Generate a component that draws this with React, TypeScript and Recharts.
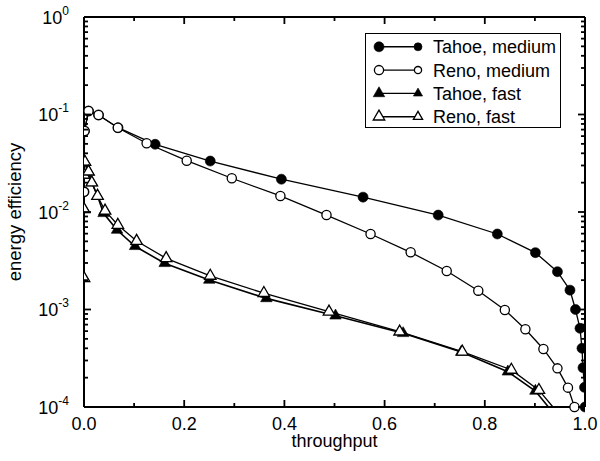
import React from 'react';
import { LineChart, Line, XAxis, YAxis, Legend } from 'recharts';

const FONT = '"Liberation Sans", Arial, Helvetica, sans-serif';

// ---- data (throughput, energy efficiency) ----
const tahoeMediumThroughput = [0, 0.001, 0.009, 0.029, 0.068, 0.142, 0.252, 0.394, 0.557, 0.707, 0.825, 0.901, 0.945, 0.970, 0.981, 0.990, 0.994, 0.996, 0.999, 1.0];
const tahoeMediumEfficiency = [0.0161, 0.0677, 0.1086, 0.0989, 0.0732, 0.0495, 0.0333, 0.0217, 0.0142, 0.0093, 0.00595, 0.00383, 0.00244, 0.00158, 0.001, 0.000641, 0.0004, 0.000253, 0.000159, 0.0001];

const renoMediumThroughput = [0, 0.001, 0.009, 0.029, 0.0675, 0.125, 0.205, 0.295, 0.392, 0.484, 0.572, 0.652, 0.724, 0.787, 0.840, 0.881, 0.917, 0.945, 0.966, 0.979];
const renoMediumEfficiency = [0.0161, 0.0677, 0.1086, 0.0989, 0.0732, 0.0507, 0.0336, 0.0222, 0.0146, 0.00931, 0.00595, 0.00386, 0.00248, 0.00156, 0.000988, 0.000627, 0.000394, 0.000249, 0.000158, 0.0001];

const tahoeFastThroughput = [0, 0, 0, 0.002, 0.009, 0.0156, 0.027, 0.039, 0.066, 0.102, 0.161, 0.250, 0.364, 0.502, 0.637, 0.753, 0.846, 0.901];
const tahoeFastEfficiency = [0.00209, 0.01066, 0.024, 0.0325, 0.0259, 0.02, 0.0146, 0.0097, 0.00654, 0.00445, 0.00298, 0.00201, 0.0013, 0.000863, 0.00057, 0.000367, 0.00023, 0.000146];
// where the line leaves the plot through the bottom axis (no marker)
const tahoeFastAxisExit = [0.927, 0.0001];

const renoFastThroughput = [0, 0, 0, 0.002, 0.009, 0.0156, 0.027, 0.042, 0.0675, 0.105, 0.164, 0.252, 0.359, 0.489, 0.630, 0.755, 0.853, 0.908];
const renoFastEfficiency = [0.00209, 0.01066, 0.024, 0.0325, 0.0259, 0.02, 0.0146, 0.0103, 0.00736, 0.00504, 0.00335, 0.00221, 0.00147, 0.000949, 0.000592, 0.000369, 0.00024, 0.000149];
const renoFastAxisExit = [0.936, 0.0001];

const seriesNames = ['Tahoe, medium', 'Reno, medium', 'Tahoe, fast', 'Reno, fast'];

const xTickValues = [0, 0.1, 0.2, 0.3, 0.4, 0.5, 0.6, 0.7, 0.8, 0.9, 1.0];
const xTickLabels = ['0.0', '', '0.2', '', '0.4', '', '0.6', '', '0.8', '', '1.0'];
const yDecadeExponents = [-4, -3, -2, -1, 0];
const yMinorMultipliers = [2, 3, 4, 5, 6, 7, 8, 9];

// ---- layout ----
const CHART_W = 600;
const CHART_H = 461;
const MARGIN = { top: 16, right: 14, left: 0, bottom: 0 };
const Y_AXIS_W = 84;
const X_AXIS_H = 54;
const PLOT_TOP = MARGIN.top + 1; // below the 1px top axis
const PLOT_RIGHT = CHART_W - MARGIN.right - 1; // left of the 1px right axis
const MAJOR_TICK = 7;
const MINOR_TICK = 4;
const TICK_W = 1.8;

// ---- derived tables ----
const toPoints = (xs: number[], ys: number[], exit?: number[]) => {
  const pts: any[] = xs.map((x, i) => ({ x, y: ys[i], hidden: false }));
  if (exit) pts.push({ x: exit[0], y: exit[1], hidden: true });
  return pts;
};

const tahoeMedium = toPoints(tahoeMediumThroughput, tahoeMediumEfficiency);
const renoMedium = toPoints(renoMediumThroughput, renoMediumEfficiency);
const tahoeFast = toPoints(tahoeFastThroughput, tahoeFastEfficiency, tahoeFastAxisExit);
const renoFast = toPoints(renoFastThroughput, renoFastEfficiency, renoFastAxisExit);

const yTickValues: number[] = [];
yDecadeExponents.forEach((e) => {
  const base = Math.pow(10, e);
  yTickValues.push(base);
  if (e < 0) yMinorMultipliers.forEach((m) => yTickValues.push(m * base));
});

const isDecade = (v: number) => {
  const e = Math.log10(v);
  return Math.abs(e - Math.round(e)) < 1e-6;
};
const xLabelFor = (v: number) => {
  const i = xTickValues.findIndex((t) => Math.abs(t - v) < 1e-9);
  return i >= 0 ? xTickLabels[i] : '';
};

// ---- markers ----
type Kind = 'filledCircle' | 'openCircle' | 'filledTriangle' | 'openTriangle';

const Marker = ({ kind, cx, cy, r = 5 }: { kind: Kind; cx: number; cy: number; r?: number }) => {
  const filled = kind === 'filledCircle' || kind === 'filledTriangle';
  if (kind === 'filledCircle' || kind === 'openCircle') {
    return (
      <circle cx={cx} cy={cy} r={filled ? r : r - 0.4} fill={filled ? '#000' : '#fff'} stroke="#000" strokeWidth={filled ? 0.6 : 1.3} />
    );
  }
  const s = r * 2.3;
  const h = s * 0.866;
  const d = `M${cx},${cy - (2 * h) / 3} L${cx + s / 2},${cy + h / 3} L${cx - s / 2},${cy + h / 3} Z`;
  return <path d={d} fill={filled ? '#000' : '#fff'} stroke="#000" strokeWidth={filled ? 0.6 : 1.3} strokeLinejoin="miter" />;
};

const makeDot = (kind: Kind) => (props: any) => {
  const { cx, cy, index, payload } = props;
  if (payload?.hidden || cx == null || cy == null) return <g key={`d${index}`} />;
  return <Marker key={`d${index}`} kind={kind} cx={cx} cy={cy} />;
};

// ---- ticks (inward, mirrored on top / right) ----
const BottomTick = (props: any) => {
  const x = Number(props.x);
  const y = Number(props.y);
  const label = xLabelFor(props.payload.value);
  const len = label !== '' ? MAJOR_TICK : MINOR_TICK;
  return (
    <g>
      <line x1={x} y1={y} x2={x} y2={y - len} stroke="#000000" strokeWidth={TICK_W} />
      <line x1={x} y1={PLOT_TOP} x2={x} y2={PLOT_TOP + len} stroke="#000000" strokeWidth={TICK_W} />
      {label !== '' && (
        <text x={x} y={y + 22.5} textAnchor="middle" fontSize={18} fontFamily={FONT} fill="#000">
          {label}
        </text>
      )}
    </g>
  );
};

const LeftTick = (props: any) => {
  const x = Number(props.x);
  const y = Number(props.y);
  const v = props.payload.value;
  const major = isDecade(v);
  const len = major ? MAJOR_TICK : MINOR_TICK;
  const e = Math.round(Math.log10(v));
  return (
    <g>
      <line x1={x} y1={y} x2={x + len} y2={y} stroke="#000000" strokeWidth={TICK_W} />
      <line x1={PLOT_RIGHT} y1={y} x2={PLOT_RIGHT - len} y2={y} stroke="#000000" strokeWidth={TICK_W} />
      {major && (
        <text x={x - 15} y={y + 6.5} textAnchor="end" fontSize={18} fontFamily={FONT} fill="#000">
          10
          <tspan dy={-9} fontSize={12}>
            {String(e)}
          </tspan>
        </text>
      )}
    </g>
  );
};

// ---- legend ----
const legendKinds: Kind[] = ['filledCircle', 'openCircle', 'filledTriangle', 'openTriangle'];

const LegendBox = () => (
  <div
    style={{
      width: 196,
      height: 95,
      boxSizing: 'border-box',
      border: '1.5px solid #000',
      background: '#fff',
      position: 'relative',
    }}
  >
    <svg width={196} height={95} style={{ position: 'absolute', left: -1.5, top: -1.5 }}>
      {seriesNames.map((name, i) => {
        const cy = 13.8 + i * 23.3;
        return (
          <g key={name}>
            <line x1={14} x2={53} y1={cy} y2={cy} stroke="#000" strokeWidth={1.4} />
            <Marker kind={legendKinds[i]} cx={14} cy={cy} r={5} />
            <Marker kind={legendKinds[i]} cx={53} cy={cy} r={4} />
            <text x={68} y={cy + 6.5} fontSize={18} fontFamily={FONT} fill="#000">
              {name}
            </text>
          </g>
        );
      })}
    </svg>
  </div>
);

const XLabel = (props: any) => {
  const vb = props.viewBox || {};
  return (
    <text x={vb.x + vb.width / 2} y={vb.y + 40} textAnchor="middle" fontSize={18} fontFamily={FONT} fill="#000">
      throughput
    </text>
  );
};

const YLabel = (props: any) => {
  const vb = props.viewBox || {};
  const cx = 21;
  const cy = vb.y + vb.height / 2;
  return (
    <text x={cx} y={cy} transform={`rotate(-90, ${cx}, ${cy})`} textAnchor="middle" fontSize={18.5} fontFamily={FONT} fill="#000">
      energy efficiency
    </text>
  );
};

export default function App() {
  const axisLine = { stroke: '#000', strokeWidth: 2 };
  return (
    <div style={{ position: 'absolute', left: 0, top: 0, width: CHART_W, height: CHART_H, background: '#fff' }}>
      <LineChart width={CHART_W} height={CHART_H} margin={MARGIN}>
        <XAxis
          xAxisId={0}
          dataKey="x"
          type="number"
          domain={[0, 1]}
          ticks={xTickValues}
          interval={0}
          tickSize={0}
          tickMargin={0}
          tick={<BottomTick />}
          tickLine={false}
          axisLine={axisLine}
          height={X_AXIS_H}
          allowDataOverflow
          label={<XLabel />}
        />
        <XAxis
          xAxisId="top"
          orientation="top"
          type="number"
          domain={[0, 1]}
          tick={false}
          tickLine={false}
          axisLine={axisLine}
          height={1}
        />
        <YAxis
          yAxisId={0}
          type="number"
          scale="log"
          domain={[0.0001, 1]}
          ticks={yTickValues}
          interval={0}
          tickSize={0}
          tickMargin={0}
          tick={<LeftTick />}
          tickLine={false}
          axisLine={axisLine}
          width={Y_AXIS_W}
          label={<YLabel />}
        />
        <YAxis
          yAxisId="right"
          orientation="right"
          type="number"
          scale="log"
          domain={[0.0001, 1]}
          tick={false}
          tickLine={false}
          axisLine={axisLine}
          width={1}
        />
        <Legend
          layout="horizontal"
          verticalAlign="middle"
          align="center"
          content={() => <LegendBox />}
          wrapperStyle={{ position: 'absolute', left: 365, top: 33, width: 196, height: 95 }}
        />
        <Line data={tahoeMedium} dataKey="y" name={seriesNames[0]} stroke="#000" strokeWidth={1.3} dot={makeDot('filledCircle')} isAnimationActive={false} />
        <Line data={renoMedium} dataKey="y" name={seriesNames[1]} stroke="#000" strokeWidth={1.3} dot={makeDot('openCircle')} isAnimationActive={false} />
        <Line data={tahoeFast} dataKey="y" name={seriesNames[2]} stroke="#000" strokeWidth={1.6} dot={makeDot('filledTriangle')} isAnimationActive={false} />
        <Line data={renoFast} dataKey="y" name={seriesNames[3]} stroke="#000" strokeWidth={1.3} dot={makeDot('openTriangle')} isAnimationActive={false} />
      </LineChart>
    </div>
  );
}
